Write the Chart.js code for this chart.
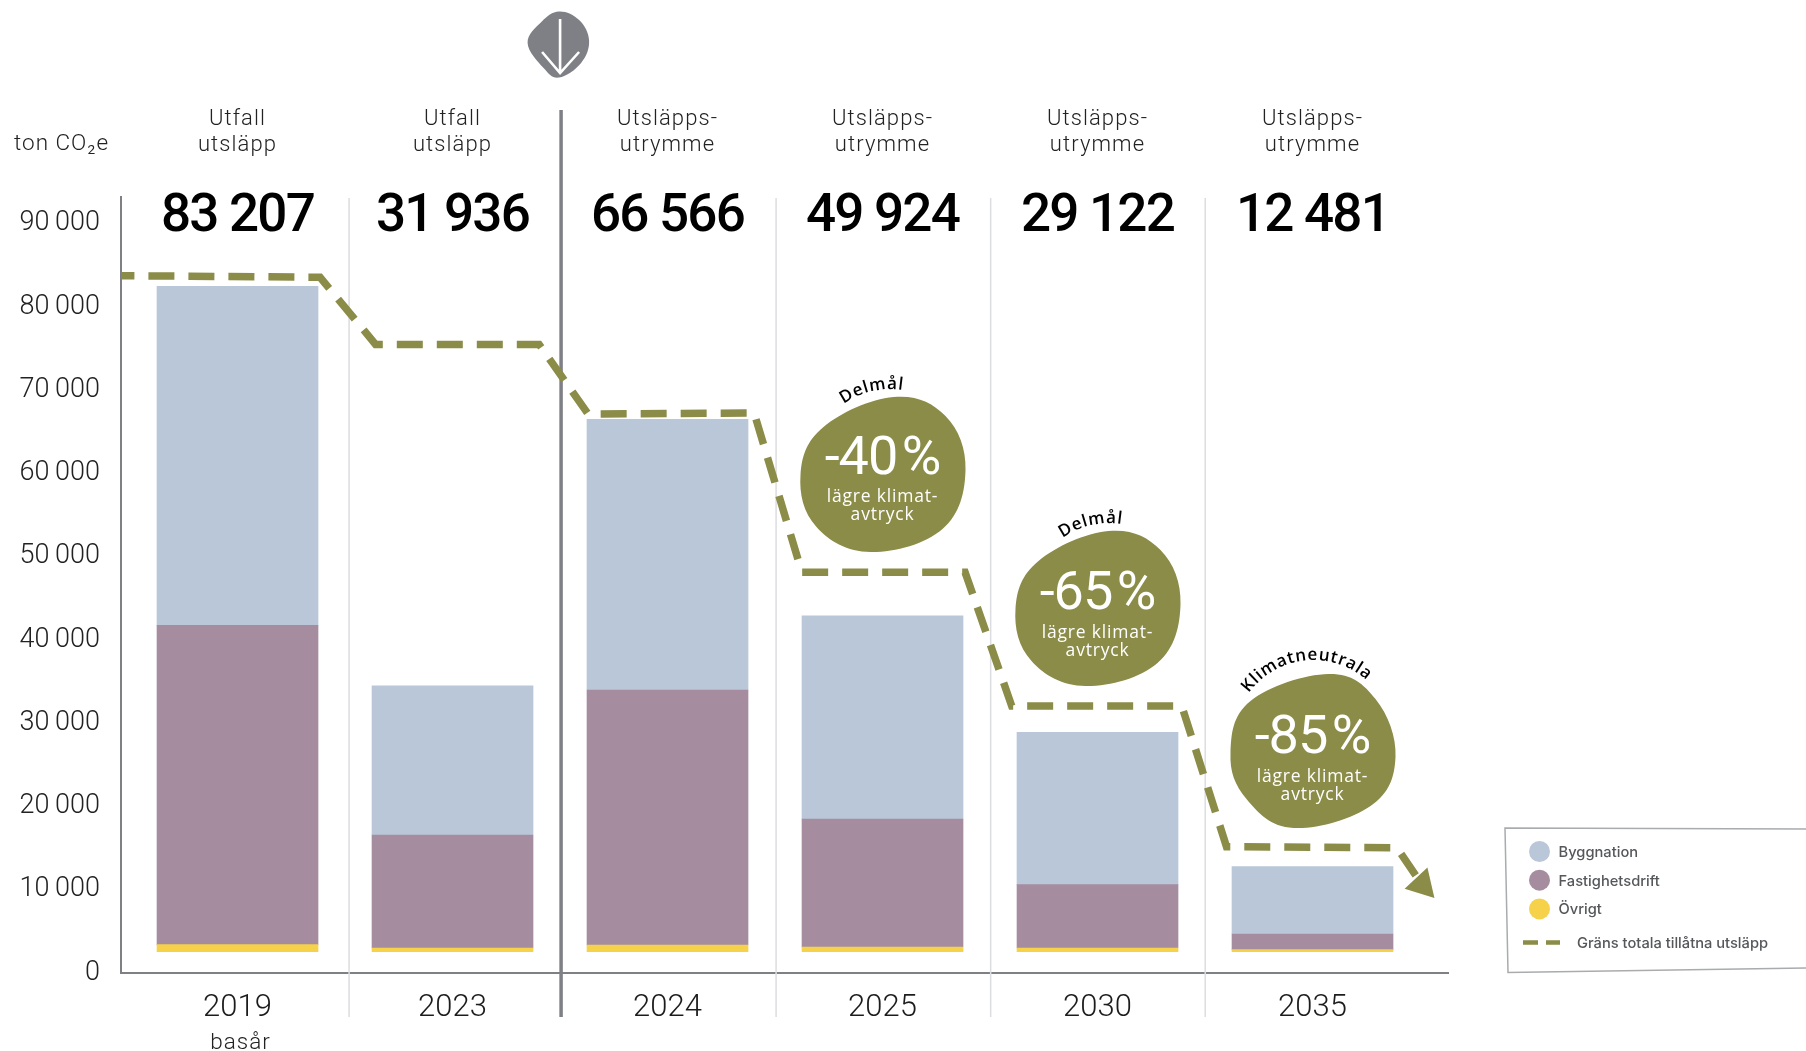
<!DOCTYPE html>
<html lang="sv">
<head>
<meta charset="utf-8">
<title>Utsläpp</title>
<script src="https://cdn.jsdelivr.net/npm/chart.js@4/dist/chart.umd.js"></script>
<style>
  html, body { margin: 0; background: #fff; }
  canvas { display: block; }
</style>
</head>
<body>
<canvas id="chart" width="1806" height="1051"></canvas>
<script>
// values, ton CO2e
const years = ['2019', '2023', '2024', '2025', '2030', '2035'];
const yTicks = [0, 10000, 20000, 30000, 40000, 50000, 60000, 70000, 80000, 90000];
const headLines = [
    ['Utfall', 'utsläpp'], ['Utfall', 'utsläpp'], ['Utsläpps-', 'utrymme'],
    ['Utsläpps-', 'utrymme'], ['Utsläpps-', 'utrymme'], ['Utsläpps-', 'utrymme']
];
const totals = ['83 207', '31 936', '66 566', '49 924', '29 122', '12 481'];

// the bars float a little above zero in the original
const baseGap = [2560, 2560, 2560, 2560, 2560, 2560];
const ovrigt = [840, 440, 800, 560, 440, 250];
const fastighetsdrift = [38340, 13570, 30620, 15370, 7610, 1870];
const byggnation = [40700, 17900, 32500, 24400, 18300, 8100];

// limit line, x in year slots (0 = 2019 ... 5 = 2035)
const limitX = [-0.54, 0.384, 0.642, 1.403, 1.631, 2.403, 2.625, 3.384, 3.601, 4.392, 4.6, 5.393, 5.51];
const limitY = [83730, 83540, 75480, 75480, 67120, 67240, 48120, 48120, 32060, 32060, 15170, 15040, 10600];

const goalSlots = [3, 4, 5];
const goalTitles = ['Delmål', 'Delmål', 'Klimatneutrala'];
const goalPercents = ['-40\u200a%', '-65\u200a%', '-85\u200a%'];
const seriesNames = ['Byggnation', 'Fastighetsdrift', 'Övrigt'];
const limitName = 'Gräns totala tillåtna utsläpp';

const BLUE = '#b9c7d9', PURPLE = '#a58d9f', YELLOW = '#f5d24a', OLIVE = '#8a8c47', GREY = '#7e8086';
const FONT = 'Roboto, sans-serif';

function pairs(xs, ys) {
    return xs.map((x, i) => ({ x: x, y: ys[i] }));
}

function barSet(label, values, color) {
    return { label: label, data: pairs(years.map((y, i) => i), values), backgroundColor: color,
             stack: 'total', barThickness: 161, order: 1 };
}

// smooth closed curve through outline points
function blobPath(ctx, cx, cy, pts) {
    const n = pts.length, k = 5.3;
    ctx.beginPath();
    ctx.moveTo(cx + pts[0][0], cy + pts[0][1]);
    for (let i = 0; i < n; i++) {
        const p0 = pts[(i + n - 1) % n], p1 = pts[i], p2 = pts[(i + 1) % n], p3 = pts[(i + 2) % n];
        ctx.bezierCurveTo(
            cx + p1[0] + (p2[0] - p0[0]) / k, cy + p1[1] + (p2[1] - p0[1]) / k,
            cx + p2[0] - (p3[0] - p1[0]) / k, cy + p2[1] - (p3[1] - p1[1]) / k,
            cx + p2[0], cy + p2[1]);
    }
    ctx.closePath();
}

function arcText(ctx, text, cx, cy, r, midAngle) {
    const total = ctx.measureText(text).width;
    let a = midAngle - total / 2 / r;
    ctx.textAlign = 'left';
    ctx.textBaseline = 'alphabetic';
    for (const ch of text) {
        const w = ctx.measureText(ch).width;
        ctx.save();
        ctx.translate(cx, cy);
        ctx.rotate(a + w / 2 / r);
        ctx.fillText(ch, -w / 2, -r);
        ctx.restore();
        a += w / r;
    }
}

const blobA = [[11, -77], [63, -58], [83, -4], [60, 55], [-12, 78], [-66, 53], [-82, 1], [-59, -47]];
const blobB = [[16, -77], [63, -52], [83, 6], [58, 55], [-19, 77], [-66, 48], [-82, 2], [-62, -50]];
const blobMarker = [[0, -33], [20, -24.5], [30, -4], [22, 18.5], [0, 33], [-15.5, 23.5], [-31.5, -1.5], [-17.5, -22.8]];

const dividers = {
    id: 'dividers',
    beforeDatasetsDraw(chart) {
        const { ctx, scales: { x }, chartArea: a } = chart;
        ctx.save();
        ctx.strokeStyle = '#dcdde0';
        ctx.lineWidth = 1.5;
        [0.519, 2.505, 3.503, 4.501].forEach(v => {
            const px = x.getPixelForValue(v);
            ctx.beginPath();
            ctx.moveTo(px, a.top + 1);
            ctx.lineTo(px, 1017);
            ctx.stroke();
        });
        // the "now" line
        ctx.strokeStyle = GREY;
        ctx.lineWidth = 3.5;
        const now = x.getPixelForValue(1.505);
        ctx.beginPath();
        ctx.moveTo(now, 110);
        ctx.lineTo(now, 1017);
        ctx.stroke();
        ctx.restore();
    }
};

const texts = {
    id: 'texts',
    afterDraw(chart) {
        const { ctx, scales: { x } } = chart;
        ctx.save();
        ctx.textBaseline = 'middle';

        // arrow marker above the now line
        const mx = x.getPixelForValue(1.505);
        ctx.fillStyle = GREY;
        blobPath(ctx, mx - 2, 44.5, blobMarker);
        ctx.fill();
        ctx.strokeStyle = '#fff';
        ctx.lineWidth = 2.6;
        ctx.beginPath();
        ctx.moveTo(mx - 1, 19);
        ctx.lineTo(mx - 1, 73);
        ctx.moveTo(mx - 19, 52);
        ctx.lineTo(mx - 1, 73);
        ctx.lineTo(mx + 18, 52);
        ctx.stroke();

        // column heads and totals
        ctx.textAlign = 'center';
        years.forEach((y, i) => {
            const px = x.getPixelForValue(i);
            ctx.fillStyle = '#222';
            ctx.font = '300 22px ' + FONT;
            ctx.letterSpacing = '1.1px';
            ctx.fillText(headLines[i][0], px, 119.5);
            ctx.fillText(headLines[i][1], px, 145.5);
            ctx.fillStyle = '#000';
            ctx.font = '500 53px ' + FONT;
            ctx.letterSpacing = '-1.8px';
            ctx.fillText(totals[i], px, 217.5);
        });
        ctx.fillStyle = '#222';
        ctx.font = '300 22.5px ' + FONT;
        ctx.letterSpacing = '1px';
        ctx.textAlign = 'left';
        ctx.fillText('ton CO₂e', 14, 144.5);
        ctx.textAlign = 'center';
        ctx.fillText('basår', x.getPixelForValue(0) + 3, 1043.5);

        // goal blobs
        goalSlots.forEach((slot, i) => {
            const px = x.getPixelForValue(slot);
            const py = i === 0 ? 474 : i === 1 ? 608 : 751;
            ctx.fillStyle = OLIVE;
            blobPath(ctx, px, py, i === 2 ? blobB : blobA);
            ctx.fill();
            ctx.fillStyle = '#fff';
            ctx.textAlign = 'center';
            ctx.textBaseline = 'middle';
            ctx.font = '400 54px ' + FONT;
            ctx.letterSpacing = '-1px';
            ctx.fillText(goalPercents[i], px, py - 14 + i);
            ctx.font = '500 17.5px "Open Sans", sans-serif';
            ctx.letterSpacing = '0.8px';
            const sub = [0.5, 2, 3][i];
            ctx.fillText('lägre klimat-', px, py + 23 + sub);
            ctx.fillText('avtryck', px, py + 41 + sub);
            ctx.fillStyle = '#000';
            ctx.font = '600 17px "Open Sans", sans-serif';
            ctx.letterSpacing = '0.8px';
            if (i === 2) arcText(ctx, goalTitles[i], px + 1, py - 11, 80, -0.105);
            else arcText(ctx, goalTitles[i], px + (i === 1 ? 12 : 8), py - 4, 81, -0.23);
        });

        // legend, a slightly skewed sheet running off the page
        ctx.letterSpacing = '0px';
        ctx.textBaseline = 'middle';
        ctx.strokeStyle = '#a9abad';
        ctx.lineWidth = 1.5;
        ctx.fillStyle = '#fff';
        ctx.beginPath();
        ctx.moveTo(1806, 829);
        ctx.lineTo(1505, 828);
        ctx.lineTo(1508, 972.5);
        ctx.lineTo(1806, 968);
        ctx.fill();
        ctx.stroke();
        ctx.textAlign = 'left';
        ctx.font = '500 14.7px Inter, sans-serif';
        const swatches = [BLUE, PURPLE, YELLOW];
        seriesNames.forEach((name, i) => {
            const ly = 851.5 + i * 28.7;
            ctx.fillStyle = swatches[i];
            ctx.beginPath();
            ctx.ellipse(1539.5, ly, 10.5, 10.5, 0, 0, Math.PI * 2);
            ctx.fill();
            ctx.fillStyle = '#55575a';
            ctx.fillText(name, 1558.5, ly + 1);
        });
        ctx.strokeStyle = OLIVE;
        ctx.lineWidth = 4.5;
        ctx.setLineDash([15, 8]);
        ctx.beginPath();
        ctx.moveTo(1523, 942.5);
        ctx.lineTo(1560, 942.5);
        ctx.stroke();
        ctx.fillStyle = '#55575a';
        ctx.fillText(limitName, 1577, 943.5);
        ctx.restore();
    }
};

new Chart(document.getElementById('chart').getContext('2d'), {
    type: 'bar',
    data: {
        datasets: [
            { label: 'gap', data: pairs(years.map((y, i) => i), baseGap), backgroundColor: 'rgba(0,0,0,0)',
              stack: 'total', barThickness: 161, order: 1 },
            barSet(seriesNames[2], ovrigt, YELLOW),
            barSet(seriesNames[1], fastighetsdrift, PURPLE),
            barSet(seriesNames[0], byggnation, BLUE),
            {
                type: 'line',
                label: limitName,
                data: pairs(limitX, limitY),
                stack: 'limit',
                order: 0,
                borderColor: OLIVE,
                borderWidth: 7.5,
                borderDash: [26, 14],
                borderDashOffset: 13,
                borderJoinStyle: 'miter',
                tension: 0,
                fill: false,
                pointRadius: c => (c.dataIndex === limitX.length - 1 ? 18 : 0),
                pointStyle: 'triangle',
                pointRotation: 137,
                pointBackgroundColor: OLIVE,
                pointBorderWidth: 0,
                clip: false
            }
        ]
    },
    options: {
        responsive: false,
        animation: false,
        layout: { padding: { top: 197, right: 358, left: 0, bottom: 0 } },
        plugins: { legend: { display: false }, tooltip: { enabled: false } },
        scales: {
            x: {
                type: 'linear',
                offset: false,
                min: -0.5419,
                max: 5.6302,
                grid: { display: false, offset: false },
                border: { color: GREY, width: 2 },
                afterFit(scale) { scale.height = 78; },
                afterBuildTicks(scale) { scale.ticks = years.map((y, i) => ({ value: i })); },
                ticks: {
                    autoSkip: false,
                    maxRotation: 0,
                    padding: 9,
                    color: '#1c1c1c',
                    font: { family: FONT, size: 31, weight: '300' },
                    callback: v => years[v]
                }
            },
            y: {
                stacked: true,
                min: 0,
                max: 93180,
                grid: { display: false },
                border: { color: GREY, width: 2 },
                afterFit(scale) { scale.width = 121; },
                afterBuildTicks(scale) { scale.ticks = yTicks.map(v => ({ value: v })); },
                ticks: {
                    padding: 13,
                    color: '#222',
                    font: { family: FONT, size: 27, weight: '300' },
                    callback: v => String(v).replace(/(\d)(\d{3})$/, '$1\u2009$2')
                }
            }
        }
    },
    plugins: [dividers, texts]
});
</script>
</body>
</html>
